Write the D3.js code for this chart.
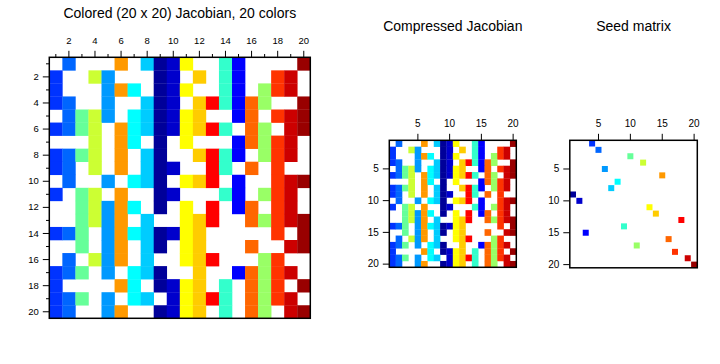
<!DOCTYPE html>
<html><head><meta charset="utf-8">
<script src="https://cdn.jsdelivr.net/npm/d3@7"></script>
<style>
body{margin:0;background:#fff;}
text{font-family:"Liberation Sans",Arial,sans-serif;fill:#000;}
</style></head>
<body><svg id="c" width="720" height="364"></svg>
<script>
// 20-entry colour palette (colour index 1..20)
const palette = ["#000099","#0000cc","#0000ff","#0033ff","#0066ff","#0099ff","#00ccff","#00ffff","#33ffcc","#66ff99",
                 "#99ff66","#ccff33","#ffff00","#ffcc00","#ff9900","#ff6600","#ff3300","#ff0000","#cc0000","#990000"];
// colour index assigned to each Jacobian column 1..20
const columnColor = [4,5,10,12,6,15,8,7,1,2,13,14,18,9,3,16,11,17,19,20];
// sparsity pattern: nonzero columns for each row 1..20
const pattern = [
  [2,6,8,9,10,11,14,15,20],
  [1,4,5,9,10,12,14,15,18,19],
  [1,5,6,7,9,10,11,14,15,17,18,19],
  [1,2,5,8,9,10,12,13,14,15,16,17,20],
  [2,3,4,5,7,8,9,10,11,12,15,16,18,19,20],
  [1,2,3,4,6,7,8,9,10,11,12,13,14,16,17,19,20],
  [4,6,7,9,11,15,16,17,18,19],
  [1,2,3,4,6,8,9,12,13,14,15,17,18,19],
  [1,2,4,6,8,9,10,13,14,16,18],
  [2,5,7,8,9,11,12,13,15,18,19,20],
  [1,3,4,6,9,10,14,15,17,18,19],
  [3,4,5,6,7,9,11,13,15,16,18,19],
  [3,4,5,6,8,11,12,13,16,17,18,19,20],
  [1,2,3,5,6,7,8,9,10,11,12,18,20],
  [3,5,6,8,9,11,12,16,19,20],
  [2,4,5,6,8,11,12,13,17,18],
  [1,2,3,5,7,8,9,12,15,16,17,18,19],
  [1,6,7,9,10,11,12,14,16,17,18,20],
  [1,2,3,5,7,8,10,11,12,13,14,16,17,18,19],
  [1,2,5,6,9,10,11,12,14,16,17,19,20]
];
const indices = d3.range(1, 21);
const mainMajorTicks = [2,4,6,8,10,12,14,16,18,20];
const mainMinorTicks = [1,3,5,7,9,11,13,15,17,19];
const smallTicks = [5,10,15,20];
const titles = ["Colored (20 x 20) Jacobian, 20 colors", "Compressed Jacobian", "Seed matrix"];

const svg = d3.select("#c");
const cells = [];
pattern.forEach((cols, r) => cols.forEach(c => cells.push({row: r + 1, col: c, color: columnColor[c - 1]})));
const seeds = columnColor.map((k, i) => ({row: i + 1, col: k}));

function panel(x0, y0, size, title, titleY, major, minor, fontSize, drawFn) {
  const x = d3.scaleBand().domain(indices).range([x0, x0 + size]).padding(0);
  const y = d3.scaleBand().domain(indices).range([y0, y0 + size]).padding(0);
  const g = svg.append("g");
  drawFn(g, x, y);
  const styleAxis = sel => {
    sel.select(".domain").remove();
    sel.selectAll("line").attr("stroke", "#000").attr("stroke-width", 1);
    sel.selectAll("text").attr("font-size", fontSize).attr("font-family", "Liberation Sans, Arial, sans-serif");
  };
  g.append("g").attr("transform", `translate(0,${y0})`)
    .call(d3.axisTop(x).tickValues(major).tickSize(6.5).tickPadding(6.5)).call(styleAxis);
  g.append("g").attr("transform", `translate(${x0},0)`)
    .call(d3.axisLeft(y).tickValues(major).tickSize(6.5).tickPadding(4)).call(styleAxis);
  if (minor) {
    g.append("g").attr("transform", `translate(0,${y0})`)
      .call(d3.axisTop(x).tickValues(minor).tickSize(3.3).tickFormat("")).call(styleAxis);
    g.append("g").attr("transform", `translate(${x0},0)`)
      .call(d3.axisLeft(y).tickValues(minor).tickSize(3.3).tickFormat("")).call(styleAxis);
  }
  g.append("rect").attr("x", x0).attr("y", y0).attr("width", size).attr("height", size)
    .attr("fill", "none").attr("stroke", "#000").attr("stroke-width", 1.5);
  svg.append("text").attr("x", x0 + size / 2).attr("y", titleY).attr("text-anchor", "middle")
    .attr("font-size", 14).text(title);
}

function drawCells(g, x, y) {
  g.selectAll("rect.cell").data(cells).join("rect").attr("class", "cell")
    .attr("x", d => x(d.col)).attr("y", d => y(d.row))
    .attr("width", x.bandwidth() + 0.3).attr("height", y.bandwidth() + 0.3)
    .attr("fill", d => palette[d.color - 1]);
}

panel(49.3, 57.3, 261, titles[0], 17.5, mainMajorTicks, mainMinorTicks, 9.5, drawCells);
panel(389.3, 140.3, 127, titles[1], 30.5, smallTicks, null, 10, drawCells);
panel(569.8, 140.3, 127.5, titles[2], 30.5, smallTicks, null, 10, (g, x, y) => {
  const s = 6;
  g.selectAll("rect.seed").data(seeds).join("rect").attr("class", "seed")
    .attr("x", d => x(d.col) + x.bandwidth() / 2 - s / 2)
    .attr("y", d => y(d.row) + y.bandwidth() / 2 - s / 2)
    .attr("width", s).attr("height", s)
    .attr("fill", d => palette[d.col - 1]);
});
</script></body></html>
